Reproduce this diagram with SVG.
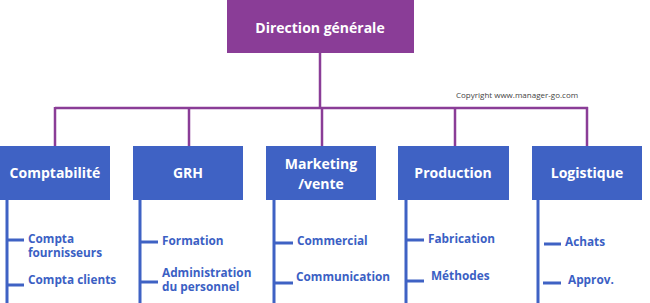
<svg xmlns="http://www.w3.org/2000/svg" width="650" height="303" viewBox="0 0 650 303">
<style>
.box{fill:#3f62c4}
.top{fill:#8a3d97}
.t{font-family:"Open Sans","Liberation Sans",sans-serif;font-weight:bold;fill:#fff;text-anchor:middle;font-size:14px}
.s{font-family:"Open Sans","Liberation Sans",sans-serif;font-weight:bold;fill:#3b5fc4;font-size:11.8px}
.p{stroke:#8a3d97;stroke-width:2.5;fill:none}
.b{stroke:#3f62c4;stroke-width:3;fill:none}
</style>
<rect width="650" height="303" fill="#fff"/>
<g id="connectors">
<path class="p" d="M320 53V108M55 108H588M55 107V146M189 107V146M322 107V146M455 107V146M587 107V146"/>
<path class="b" d="M7 200V303M7 240H24M7 285H24"/>
<path class="b" d="M140 200V303M140 242H158M140 282H158"/>
<path class="b" d="M274 200V303M274 243H293M274 283H293"/>
<path class="b" d="M406 200V303M406 240H424M406 281H424"/>
<path class="b" d="M538 200V303M544 244H561M543 283H561"/>
</g>
<g id="direction"><rect class="top" x="227" y="0" width="187" height="53"/><text class="t" x="320" y="33" font-size="15">Direction générale</text></g>
<text x="456" y="98" font-family="Open Sans, Liberation Sans, sans-serif" font-size="8" fill="#444">Copyright www.manager-go.com</text>
<g id="compta"><rect class="box" x="0" y="146" width="110" height="54"/><text class="t" x="55" y="178">Comptabilité</text>
<text class="s" x="28" y="243">Compta<tspan x="28" dy="14">fournisseurs</tspan></text><text class="s" x="28" y="284">Compta clients</text></g>
<g id="grh"><rect class="box" x="133" y="146" width="110" height="54"/><text class="t" x="188" y="178">GRH</text>
<text class="s" x="162" y="245">Formation</text><text class="s" x="162" y="277">Administration<tspan x="162" dy="14">du personnel</tspan></text></g>
<g id="marketing"><rect class="box" x="266" y="146" width="110" height="54"/><text class="t" x="321" y="169">Marketing<tspan x="321" dy="20">/vente</tspan></text>
<text class="s" x="297" y="245">Commercial</text><text class="s" x="296" y="281">Communication</text></g>
<g id="production"><rect class="box" x="398" y="146" width="111" height="54"/><text class="t" x="453" y="178">Production</text>
<text class="s" x="428" y="243">Fabrication</text><text class="s" x="431" y="280">Méthodes</text></g>
<g id="logistique"><rect class="box" x="532" y="146" width="110" height="54"/><text class="t" x="587" y="178">Logistique</text>
<text class="s" x="565" y="246">Achats</text><text class="s" x="568" y="284">Approv.</text></g>
</svg>
